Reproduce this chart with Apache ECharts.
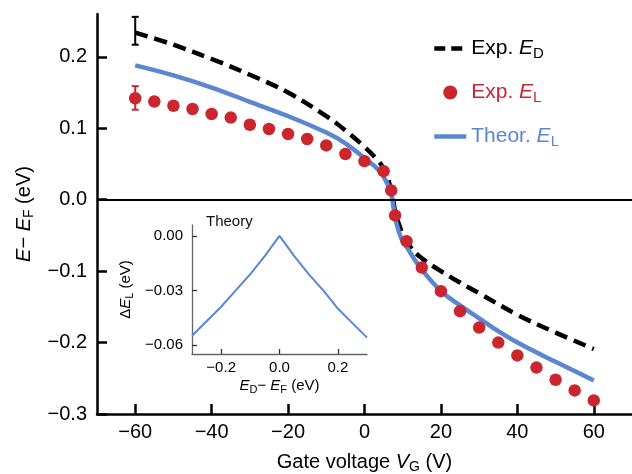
<!DOCTYPE html>
<html>
<head>
<meta charset="utf-8">
<script src="https://cdn.jsdelivr.net/npm/echarts@6/dist/echarts.min.js"></script>
<style>
html, body { margin: 0; padding: 0; background: #fff; }
#chart { width: 632px; height: 474px; }
</style>
</head>
<body>
<div id="chart"></div>
<script>
// --- main panel data (gate voltage in V, energy in eV) ---
var dotVg = [-60, -55, -50, -45, -40, -35, -30, -25, -20, -15, -10, -5, 0, 5, 7, 8, 11, 15, 20, 25, 30, 35, 40, 45, 50, 55, 60];
var dotE = [0.142, 0.1375, 0.1315, 0.127, 0.120, 0.115, 0.105, 0.099, 0.092, 0.085, 0.076, 0.064, 0.054, 0.040, 0.013, -0.022, -0.058, -0.095, -0.128, -0.156, -0.179, -0.200, -0.218, -0.235, -0.252, -0.267, -0.281];

var dirVg = [-60, -50, -40, -30, -20, -10, -5, 0, 3, 5, 6, 7, 7.5, 8, 9, 10, 12, 15, 20, 25, 30, 40, 50, 60];
var dirE = [0.234, 0.217, 0.197, 0.175, 0.150, 0.117, 0.097, 0.074, 0.058, 0.044, 0.032, 0.012, 0.0, -0.016, -0.034, -0.048, -0.066, -0.082, -0.100, -0.116, -0.131, -0.161, -0.186, -0.209];

var thVg = [-60, -50, -40, -30, -20, -10, -5, 0, 4, 6, 7, 7.3, 8, 9, 10, 11.5, 13, 15, 20, 25, 30, 35, 40, 50, 60];
var thE = [0.188, 0.174, 0.157, 0.137, 0.117, 0.094, 0.079, 0.058, 0.040, 0.022, 0.008, 0.0, -0.024, -0.045, -0.058, -0.070, -0.083, -0.098, -0.128, -0.148, -0.166, -0.184, -0.200, -0.227, -0.253];

// error bars at first point: [Vg, low, high]
var dirErr = [[-60, 0.217, 0.256]];
var dotErr = [[-60, 0.126, 0.159]];

var xTicks = [-60, -40, -20, 0, 20, 40, 60];
var yTicks = [-0.3, -0.2, -0.1, 0, 0.1, 0.2];

// --- inset: delta E_L vs E_D - E_F ---
var insX = [-0.3, -0.25, -0.2, -0.15, -0.1, -0.05, 0, 0.05, 0.1, 0.15, 0.2, 0.25, 0.3];
var insY = [-0.055, -0.047, -0.039, -0.030, -0.021, -0.011, 0, -0.011, -0.021, -0.030, -0.040, -0.048, -0.056];
var insXTicks = [-0.2, 0, 0.2];
var insYTicks = [-0.06, -0.03, 0];

var RED = '#cb262d';
var BLUE = '#5a86d2';
var FONT = 'Liberation Sans';
var NONE = 'rgba(0,0,0,0)';

function zip(a, b) {
  return a.map(function (v, i) { return [v, b[i]]; });
}
function fmt(v, d) {
  var s = Math.abs(v).toFixed(d);
  return (v < -1e-9 ? '\u2212' : '') + s;
}
function richSet(size, sub) {
  return {
    n: { fontSize: size, fontFamily: FONT, lineHeight: size + 4 },
    i: { fontSize: size, fontFamily: FONT, fontStyle: 'italic', lineHeight: size + 4 },
    s: { fontSize: sub, fontFamily: FONT, lineHeight: Math.round(sub * 0.6), verticalAlign: 'bottom' }
  };
}
function errBars(color) {
  return function (params, api) {
    var x = api.value(0);
    var p1 = api.coord([x, api.value(1)]);
    var p2 = api.coord([x, api.value(2)]);
    var w = 3.5;
    var st = { stroke: color, lineWidth: 2 };
    return {
      type: 'group',
      children: [
        { type: 'line', shape: { x1: p1[0], y1: p1[1], x2: p2[0], y2: p2[1] }, style: st },
        { type: 'line', shape: { x1: p1[0] - w, y1: p1[1], x2: p1[0] + w, y2: p1[1] }, style: st },
        { type: 'line', shape: { x1: p2[0] - w, y1: p2[1], x2: p2[0] + w, y2: p2[1] }, style: st }
      ]
    };
  };
}

var legendText = {
  'Exp. ED': '{n|Exp. }{i|E}{s|D}',
  'Exp. EL': '{n|Exp. }{i|E}{s|L}',
  'Theor. EL': '{n|Theor. }{i|E}{s|L}'
};

var chart = echarts.init(document.getElementById('chart'));
var option = {
  animation: false,
  textStyle: { fontFamily: FONT },
  title: {
    text: 'Theory', left: 206, top: 214, padding: 0,
    textStyle: { fontSize: 15, fontWeight: 'normal', color: '#111', fontFamily: FONT }
  },
  legend: {
    orient: 'vertical', left: 427, top: 33, itemWidth: 32, itemHeight: 14, itemGap: 21,
    selectedMode: false,
    formatter: function (name) { return legendText[name]; },
    textStyle: { fontSize: 21, rich: richSet(21, 15) },
    data: [
      { name: 'Exp. ED', textStyle: { color: '#000' },
        itemStyle: { color: NONE, borderColor: NONE, borderWidth: 0 },
        lineStyle: { color: '#000', width: 4.5, type: [11, 6] } },
      { name: 'Exp. EL', textStyle: { color: RED } },
      { name: 'Theor. EL', textStyle: { color: BLUE },
        itemStyle: { color: NONE, borderColor: NONE, borderWidth: 0 },
        lineStyle: { color: BLUE, width: 4.5 } }
    ]
  },
  grid: [
    { left: 97, top: 14, right: 0, bottom: 60, outerBoundsMode: 'none' },
    { left: 192, top: 225, width: 175, height: 129, outerBoundsMode: 'none' }
  ],
  xAxis: [
    {
      type: 'value', gridIndex: 0, min: -70, max: 70,
      name: '{n|Gate voltage }{i|V}{s|G}{n| (V)}', nameLocation: 'middle', nameGap: 36,
      nameTextStyle: { color: '#000', rich: richSet(20, 14) },
      axisLine: { onZero: false, lineStyle: { color: '#000', width: 2.5 } },
      axisTick: { inside: true, length: 10, lineStyle: { width: 2.5 }, customValues: xTicks },
      axisLabel: { color: '#000', fontSize: 20, margin: 8, customValues: xTicks, formatter: function (v) { return fmt(v, 0); } },
      splitLine: { show: false }
    },
    {
      type: 'value', gridIndex: 1, min: -0.3, max: 0.3,
      name: '{i|E}{s|D}{n|\u2212 }{i|E}{s|F}{n| (eV)}', nameLocation: 'middle', nameGap: 22,
      nameTextStyle: { color: '#000', rich: richSet(15, 11) },
      axisLine: { onZero: false, lineStyle: { color: '#666', width: 1.3 } },
      axisTick: { inside: true, length: 5, lineStyle: { color: '#333', width: 1.3 }, customValues: insXTicks },
      axisLabel: { color: '#000', fontSize: 15, margin: 6, customValues: insXTicks, formatter: function (v) { return fmt(v, 1); } },
      splitLine: { show: false }
    }
  ],
  yAxis: [
    {
      type: 'value', gridIndex: 0, min: -0.3, max: 0.26,
      name: '{i|E}{n|\u2212 }{i|E}{s|F}{n| (eV)}', nameLocation: 'middle', nameGap: 57,
      nameTextStyle: { color: '#000', rich: richSet(20, 14) },
      axisLine: { onZero: false, lineStyle: { color: '#000', width: 2.5 } },
      axisTick: { inside: true, length: 10, lineStyle: { width: 2.5 }, customValues: yTicks },
      axisLabel: { color: '#000', fontSize: 20, margin: 10, customValues: yTicks, formatter: function (v) { return fmt(v, 1); } },
      splitLine: { show: false }
    },
    {
      type: 'value', gridIndex: 1, min: -0.065, max: 0.006,
      name: '{n|\u0394}{i|E}{s|L}{n| (eV)}', nameLocation: 'middle', nameGap: 57,
      nameTextStyle: { color: '#000', rich: richSet(15, 11) },
      axisLine: { onZero: false, lineStyle: { color: '#666', width: 1.3 } },
      axisTick: { inside: true, length: 5, lineStyle: { color: '#333', width: 1.3 }, customValues: insYTicks },
      axisLabel: { color: '#000', fontSize: 15, margin: 9, customValues: insYTicks, formatter: function (v) { return fmt(v, 2); } },
      splitLine: { show: false }
    }
  ],
  series: [
    {
      name: 'Exp. ED', type: 'line', xAxisIndex: 0, yAxisIndex: 0,
      data: zip(dirVg, dirE), symbol: 'none', smooth: 0.4, z: 2,
      itemStyle: { color: '#000' },
      lineStyle: { color: '#000', width: 4.5, type: [13, 7] },
      markLine: {
        silent: true, symbol: 'none', label: { show: false },
        lineStyle: { color: '#000', width: 2, type: 'solid' },
        data: [{ yAxis: 0 }]
      }
    },
    {
      name: 'Theor. EL', type: 'line', xAxisIndex: 0, yAxisIndex: 0,
      data: zip(thVg, thE), symbol: 'none', smooth: 0.4, z: 3,
      itemStyle: { color: BLUE },
      lineStyle: { color: BLUE, width: 4.5 }
    },
    {
      name: 'Exp. EL', type: 'scatter', xAxisIndex: 0, yAxisIndex: 0,
      data: zip(dotVg, dotE), symbol: 'circle', symbolSize: 12.5, z: 5,
      itemStyle: { color: RED, opacity: 1 }
    },
    {
      type: 'custom', xAxisIndex: 0, yAxisIndex: 0, z: 2,
      renderItem: errBars('#000'), data: dirErr, silent: true
    },
    {
      type: 'custom', xAxisIndex: 0, yAxisIndex: 0, z: 5,
      renderItem: errBars(RED), data: dotErr, silent: true
    },
    {
      type: 'line', xAxisIndex: 1, yAxisIndex: 1,
      data: zip(insX, insY), symbol: 'none', smooth: false,
      lineStyle: { color: BLUE, width: 2 }
    }
  ]
};
chart.setOption(option);
</script>
</body>
</html>
